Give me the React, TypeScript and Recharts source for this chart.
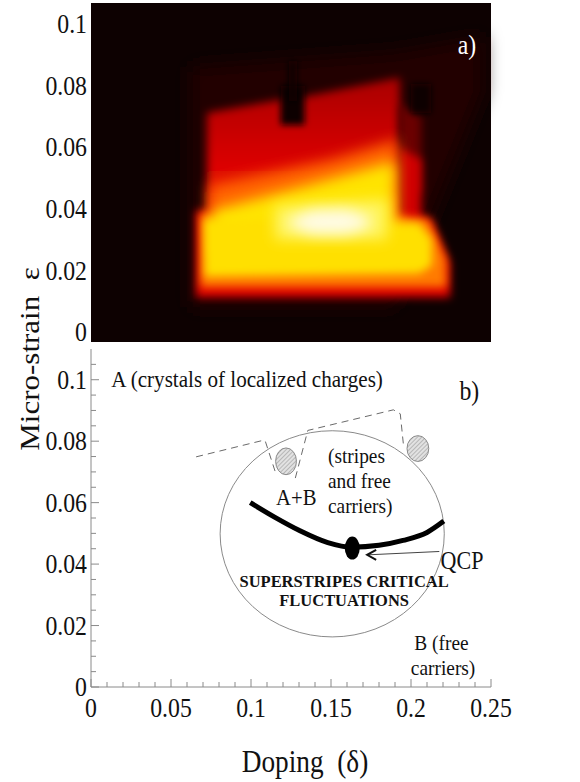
import React from "react";
import {
  Area,
  ComposedChart,
  Line,
  ReferenceArea,
  Scatter,
  XAxis,
  YAxis,
} from "recharts";

const SERIF = '"Liberation Serif", "Times New Roman", serif';
const FRAME = "#8a8a8a";
const INK = "#111111";
const SQ = 0.88; // glyphs are set a little narrow

// shared doping axis
const DOPING_DOMAIN: [number, number] = [0, 0.25];
const DOPING_TICKS = [
  0, 0.01, 0.02, 0.03, 0.04, 0.05, 0.06, 0.07, 0.08, 0.09, 0.1, 0.11, 0.12,
  0.13, 0.14, 0.15, 0.16, 0.17, 0.18, 0.19, 0.2, 0.21, 0.22, 0.23, 0.24, 0.25,
];

// micro-strain axis
const STRAIN_DOMAIN_A: [number, number] = [-0.00325, 0.1068];
const STRAIN_DOMAIN_B: [number, number] = [0, 0.11];
const STRAIN_LABELS = [0, 0.02, 0.04, 0.06, 0.08, 0.1];
const STRAIN_TICKS = [
  0, 0.005, 0.01, 0.015, 0.02, 0.025, 0.03, 0.035, 0.04, 0.045, 0.05, 0.055,
  0.06, 0.065, 0.07, 0.075, 0.08, 0.085, 0.09, 0.095, 0.1, 0.105,
];

// panel a: intensity map, one polygon per level (doping, strain low/high)
type Patch = { d: number[]; lo: number[]; hi: number[] };

const HEAT_BG: Patch = { d: [0, 0.25], lo: [-0.00325, -0.00325], hi: [0.1068, 0.1068] };
const HEAT_HAZE: Patch = { d: [0.062, 0.19, 0.245], lo: [0.008, 0.008, 0.078], hi: [0.086, 0.091, 0.096] };
const HEAT_RED_UPPER: Patch = {
  d: [0.0725, 0.119, 0.1345, 0.193],
  lo: [0.03, 0.03, 0.03, 0.03],
  hi: [0.0712, 0.0755, 0.0765, 0.0826],
};
const HEAT_RED_SIDE_DARK: Patch = { d: [0.1925, 0.2065], lo: [0.045, 0.045], hi: [0.074, 0.07] };
const HEAT_RED_SIDE: Patch = { d: [0.1925, 0.2065], lo: [0.034, 0.034], hi: [0.06, 0.056] };
const HEAT_RED_LOWER: Patch = {
  d: [0.0655, 0.19, 0.2125, 0.2245],
  lo: [0.0112, 0.0112, 0.0112, 0.0112],
  hi: [0.0395, 0.0385, 0.0372, 0.0225],
};
const HEAT_ORANGE_UPPER: Patch = { d: [0.074, 0.15, 0.1915], lo: [0.03, 0.03, 0.03], hi: [0.0475, 0.056, 0.0625] };
const HEAT_ORANGE_LOWER: Patch = {
  d: [0.0685, 0.19, 0.211, 0.222],
  lo: [0.0145, 0.0145, 0.0145, 0.0145],
  hi: [0.0385, 0.0378, 0.0365, 0.0235],
};
const HEAT_YELLOW_UPPER: Patch = { d: [0.076, 0.13, 0.19], lo: [0.024, 0.024, 0.024], hi: [0.0395, 0.047, 0.0555] };
const HEAT_YELLOW_LOWER: Patch = { d: [0.071, 0.205, 0.213], lo: [0.018, 0.019, 0.0215], hi: [0.0365, 0.0355, 0.03] };
const HEAT_GLOW: Patch = { d: [0.115, 0.185], lo: [0.03, 0.03], hi: [0.041, 0.043] };
const HEAT_PEAK: Patch = {
  d: [0.124, 0.138, 0.16, 0.174],
  lo: [0.0345, 0.0318, 0.0318, 0.0342],
  hi: [0.0365, 0.0395, 0.0398, 0.0372],
};
const HEAT_NOTCH_1: Patch = { d: [0.1185, 0.1335], lo: [0.0672, 0.0672], hi: [0.08, 0.08] };
const HEAT_STREAK: Patch = { d: [0.1235, 0.1285], lo: [0.075, 0.075], hi: [0.088, 0.088] };
const HEAT_NOTCH_2: Patch = { d: [0.2, 0.2125], lo: [0.071, 0.071], hi: [0.0805, 0.0805] };

// drawing order, fill and softening for each level
const HEAT_LAYERS: [string, Patch, string, string][] = [
  ["bg", HEAT_BG, "#0d0101", ""],
  ["haze", HEAT_HAZE, "#220303", "blur-l"],
  ["redUpper", HEAT_RED_UPPER, "url(#redFade)", "blur-m"],
  ["redSideDark", HEAT_RED_SIDE_DARK, "#6a0000", "blur-m"],
  ["redSide", HEAT_RED_SIDE, "#d00000", "blur-m"],
  ["redLower", HEAT_RED_LOWER, "#e00000", "blur-m"],
  ["orangeUpper", HEAT_ORANGE_UPPER, "#ff6400", "blur-w"],
  ["orangeLower", HEAT_ORANGE_LOWER, "#ff7a00", "blur-m"],
  ["yellowUpper", HEAT_YELLOW_UPPER, "#ffe400", "blur-w"],
  ["yellowLower", HEAT_YELLOW_LOWER, "#ffe000", "blur-m"],
  ["glow", HEAT_GLOW, "#fff560", "blur-w"],
  ["peak", HEAT_PEAK, "#fffbe6", "blur-w"],
  ["notch1", HEAT_NOTCH_1, "#0d0101", "blur-s"],
  ["streak", HEAT_STREAK, "#0d0101", "blur-s"],
  ["notch2", HEAT_NOTCH_2, "#0d0101", "blur-s"],
];

// panel b: critical line, QCP, dashed boundary, regions
const CRIT_D = [0.0995, 0.115, 0.13, 0.148, 0.163, 0.18, 0.195, 0.21, 0.2205];
const CRIT_E = [0.06, 0.0552, 0.051, 0.047, 0.0455, 0.0461, 0.0477, 0.0503, 0.054];
const QCP_D = [0.1633];
const QCP_E = [0.0452];
const ARROW_D = [0.2177, 0.1726];
const ARROW_E = [0.0441, 0.043];
const DASH1_D = [0.0657, 0.107, 0.1088, 0.1155];
const DASH1_E = [0.0749, 0.0802, 0.0802, 0.0695];
const DASH2_D = [0.1277, 0.1355, 0.189, 0.1933, 0.1952];
const DASH2_E = [0.068, 0.0835, 0.0902, 0.0889, 0.0792];

const FLUCT_BOX = { x1: 0.0807, x2: 0.2208, y1: 0.0163, y2: 0.0834 };
const DROP_1 = { x1: 0.1154, x2: 0.1284, y1: 0.0691, y2: 0.0778 };
const DROP_2 = { x1: 0.1975, x2: 0.2111, y1: 0.0734, y2: 0.0818 };

const rangeRows = (p: Patch) => p.d.map((d, i) => ({ d, r: [p.lo[i], p.hi[i]] }));
const pointRows = (ds: number[], es: number[]) => ds.map((d, i) => ({ d, e: es[i] }));

const isStep = (v: number, step: number) => Math.abs(v / step - Math.round(v / step)) < 1e-6;

function SText({ x, y, size, anchor = "start", weight = 400, fill = INK, sx = SQ, children }: any) {
  return (
    <text
      transform={`translate(${x} ${y}) scale(${sx} 1)`}
      dy="0.34em"
      textAnchor={anchor}
      fontSize={size}
      fontWeight={weight}
      fontFamily={SERIF}
      fill={fill}
    >
      {children}
    </text>
  );
}

function HeatLabel({ x, y, payload }: any) {
  return <SText x={x - 4} y={y} size={27} anchor="end">{String(payload.value)}</SText>;
}

function LeftTick({ x, y, payload }: any) {
  const major = isStep(payload.value, 0.02);
  return (
    <g>
      <line x1={x} x2={x + (major ? 8 : 5)} y1={y} y2={y} stroke={FRAME} />
      {major && <SText x={x - 4} y={y} size={27} anchor="end">{String(payload.value)}</SText>}
    </g>
  );
}

function RightTick({ x, y, payload }: any) {
  const major = isStep(payload.value, 0.02);
  return <line x1={x} x2={x - (major ? 8 : 5)} y1={y} y2={y} stroke={FRAME} />;
}

function BottomTick({ x, y, payload }: any) {
  const major = isStep(payload.value, 0.05);
  return (
    <g>
      <line x1={x} x2={x} y1={y} y2={y - (major ? 8 : 5)} stroke={FRAME} />
      {major && <SText x={x} y={y + 21} size={27} anchor="middle">{String(payload.value)}</SText>}
    </g>
  );
}

function TopTick({ x, y, payload }: any) {
  const major = isStep(payload.value, 0.05);
  return <line x1={x} x2={x} y1={y} y2={y + (major ? 8 : 5)} stroke={FRAME} />;
}

// text placed at a data position
function note(key: string, text: string, d: number, e: number, style: any) {
  return (
    <Scatter
      key={key}
      data={[{ d, e }]}
      dataKey="e"
      isAnimationActive={false}
      shape={(p: any) => <SText x={p.cx} y={p.cy} {...style}>{text}</SText>}
    />
  );
}

const ellipseShape = (fill: string) => (p: any) => {
  const w = Math.abs(p.width);
  const h = Math.abs(p.height);
  const x = Math.min(p.x, p.x + p.width);
  const y = Math.min(p.y, p.y + p.height);
  return <ellipse cx={x + w / 2} cy={y + h / 2} rx={w / 2} ry={h / 2} fill={fill} stroke={FRAME} strokeWidth={1} />;
};

function HeatPanel() {
  return (
    <ComposedChart width={580} height={349} margin={{ top: 3, right: 89, bottom: 7, left: 0 }}>
      <XAxis type="number" dataKey="d" domain={DOPING_DOMAIN} allowDataOverflow hide />
      <YAxis
        type="number"
        domain={STRAIN_DOMAIN_A}
        allowDataOverflow
        ticks={STRAIN_LABELS}
        interval={0}
        width={91}
        axisLine={false}
        tickLine={false}
        tickSize={0}
        tickMargin={0}
        tick={(p: any) => <HeatLabel {...p} />}
      />
      {HEAT_LAYERS.map(([key, patch, color, blur]) => (
        <Area
          key={key}
          data={rangeRows(patch)}
          dataKey="r"
          type="linear"
          stroke="none"
          fill={color}
          fillOpacity={1}
          className={blur}
          dot={false}
          activeDot={false}
          isAnimationActive={false}
        />
      ))}
      {note("a", "a)", 0.2292, 0.0932, { size: 27, fill: "#ffffff" })}
    </ComposedChart>
  );
}

function PhasePanel() {
  return (
    <ComposedChart width={580} height={433} margin={{ top: 0, right: 89, bottom: 0, left: 0 }}>
      <XAxis
        type="number"
        dataKey="d"
        domain={DOPING_DOMAIN}
        allowDataOverflow
        ticks={DOPING_TICKS}
        interval={0}
        height={95}
        axisLine={{ stroke: FRAME }}
        tickLine={false}
        tickSize={0}
        tickMargin={0}
        tick={(p: any) => <BottomTick {...p} />}
      />
      <XAxis
        xAxisId="top"
        orientation="top"
        type="number"
        domain={DOPING_DOMAIN}
        allowDataOverflow
        ticks={DOPING_TICKS}
        interval={0}
        height={0}
        axisLine={{ stroke: FRAME }}
        tickLine={false}
        tickSize={0}
        tickMargin={0}
        tick={(p: any) => <TopTick {...p} />}
      />
      <YAxis
        type="number"
        domain={STRAIN_DOMAIN_B}
        allowDataOverflow
        ticks={STRAIN_TICKS}
        interval={0}
        width={91}
        axisLine={{ stroke: FRAME }}
        tickLine={false}
        tickSize={0}
        tickMargin={0}
        tick={(p: any) => <LeftTick {...p} />}
      />
      <YAxis
        yAxisId="right"
        orientation="right"
        type="number"
        domain={STRAIN_DOMAIN_B}
        allowDataOverflow
        ticks={STRAIN_TICKS}
        interval={0}
        width={0}
        axisLine={{ stroke: FRAME }}
        tickLine={false}
        tickSize={0}
        tickMargin={0}
        tick={(p: any) => <RightTick {...p} />}
      />

      <ReferenceArea {...FLUCT_BOX} shape={ellipseShape("none")} />
      <ReferenceArea {...DROP_1} shape={ellipseShape("url(#hatch)")} />
      <ReferenceArea {...DROP_2} shape={ellipseShape("url(#hatch)")} />

      <Line data={pointRows(DASH1_D, DASH1_E)} dataKey="e" type="linear" stroke="#6a6a6a" strokeWidth={1}
        strokeDasharray="7 5" dot={false} activeDot={false} isAnimationActive={false} />
      <Line data={pointRows(DASH2_D, DASH2_E)} dataKey="e" type="linear" stroke="#6a6a6a" strokeWidth={1}
        strokeDasharray="7 5" dot={false} activeDot={false} isAnimationActive={false} />
      <Line data={pointRows(CRIT_D, CRIT_E)} dataKey="e" type="monotone" stroke="#000" strokeWidth={5}
        dot={false} activeDot={false} isAnimationActive={false} />
      <Line
        data={pointRows(ARROW_D, ARROW_E)}
        dataKey="e"
        type="linear"
        stroke="#444"
        strokeWidth={1}
        activeDot={false}
        isAnimationActive={false}
        dot={(p: any) =>
          p.index === 1 ? (
            <path key="head" d={`M${p.cx + 9},${p.cy - 5} L${p.cx},${p.cy} L${p.cx + 9},${p.cy + 5}`}
              fill="none" stroke="#111" strokeWidth={2} />
          ) : (
            <g key={`n${p.index}`} />
          )
        }
      />
      <Scatter
        data={pointRows(QCP_D, QCP_E)}
        dataKey="e"
        isAnimationActive={false}
        shape={(p: any) => <ellipse cx={p.cx} cy={p.cy} rx={7.5} ry={11.5} fill="#000" />}
      />

      {note("crystals", "A (crystals of localized charges)", 0.0127, 0.1003, { size: 24 })}
      {note("b", "b)", 0.2303, 0.0964, { size: 27 })}
      {note("s1", "(stripes", 0.1481, 0.0752, { size: 22 })}
      {note("s2", "and free", 0.1481, 0.0672, { size: 22 })}
      {note("s3", "carriers)", 0.1481, 0.0592, { size: 22 })}
      {note("ab", "A+B", 0.1157, 0.0618, { size: 23.5 })}
      {note("qcp", "QCP", 0.2185, 0.0412, { size: 25 })}
      {note("ss1", "SUPERSTRIPES CRITICAL", 0.1582, 0.0344, { size: 17, weight: 700, anchor: "middle", sx: 0.97 })}
      {note("ss2", "FLUCTUATIONS", 0.1582, 0.0282, { size: 17, weight: 700, anchor: "middle", sx: 0.97 })}
      {note("b1", "B (free", 0.2021, 0.0144, { size: 22 })}
      {note("b2", "carriers)", 0.1999, 0.0063, { size: 22 })}
    </ComposedChart>
  );
}

export default function App() {
  return (
    <div style={{ position: "absolute", left: 0, top: 0, width: 580, height: 782, background: "#fff" }}>
      <style>{`.blur-s{filter:url(#blurS)}.blur-m{filter:url(#blurM)}.blur-w{filter:url(#blurW)}.blur-l{filter:url(#blurL)}`}</style>
      <svg width={0} height={0} style={{ position: "absolute" }}>
        <defs>
          <filter id="blurS" x="-60%" y="-60%" width="220%" height="220%">
            <feGaussianBlur stdDeviation="3" />
          </filter>
          <filter id="blurM" x="-50%" y="-50%" width="200%" height="200%">
            <feGaussianBlur stdDeviation="4.5" />
          </filter>
          <filter id="blurW" x="-50%" y="-50%" width="200%" height="200%">
            <feGaussianBlur stdDeviation="7" />
          </filter>
          <filter id="blurL" x="-50%" y="-50%" width="200%" height="200%">
            <feGaussianBlur stdDeviation="9" />
          </filter>
          <linearGradient id="redFade" x1="0" y1="0" x2="0" y2="1">
            <stop offset="0" stopColor="#a80000" />
            <stop offset="0.5" stopColor="#d80000" />
            <stop offset="1" stopColor="#ff2a00" />
          </linearGradient>
          <pattern id="hatch" width="3" height="3" patternUnits="userSpaceOnUse" patternTransform="rotate(45)">
            <rect width="3" height="3" fill="#e2e2e2" />
            <line x1="0" y1="0" x2="0" y2="3" stroke="#9a9a9a" strokeWidth="1.2" />
          </pattern>
        </defs>
      </svg>
      <div style={{ position: "absolute", left: 0, top: 0 }}>
        <HeatPanel />
      </div>
      <div style={{ position: "absolute", left: 0, top: 349 }}>
        <PhasePanel />
      </div>
      <svg width={580} height={782} style={{ position: "absolute", left: 0, top: 0, pointerEvents: "none" }}>
        <text transform={`translate(38.5 359) scale(${SQ} 1) rotate(-90)`} textAnchor="middle" fontSize={31}
          fontFamily={SERIF} fill={INK}>
          {"Micro-strain\u00a0\u00a0ε"}
        </text>
        <text transform={`translate(305 772) scale(${SQ} 1)`} textAnchor="middle" fontSize={31}
          fontFamily={SERIF} fill={INK}>
          {"Doping\u00a0\u00a0(δ)"}
        </text>
      </svg>
    </div>
  );
}
